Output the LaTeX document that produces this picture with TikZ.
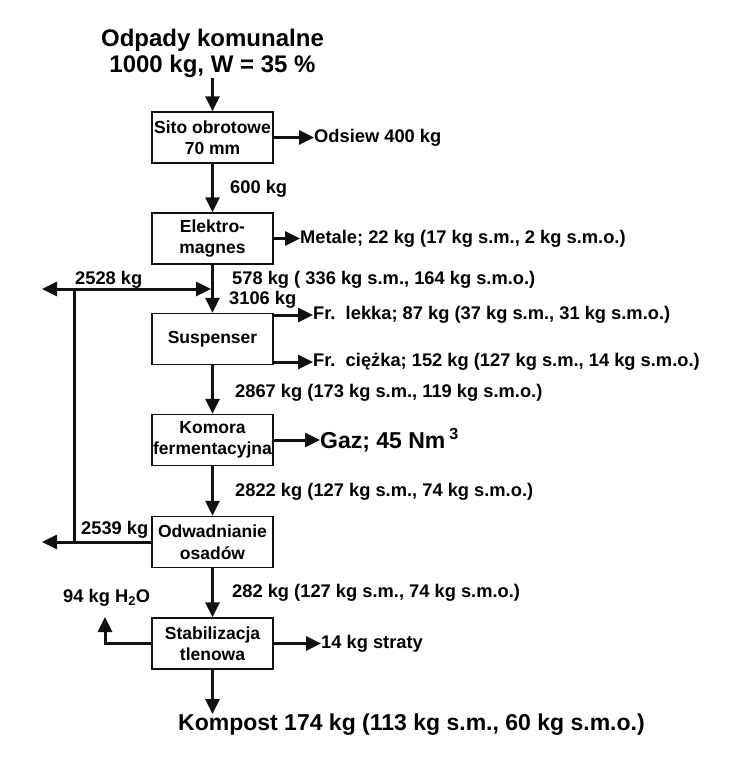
\documentclass[tikz,border=0pt]{standalone}
\usepackage{fontspec}
\setmainfont{Liberation Sans}
\usetikzlibrary{arrows.meta}

\begin{document}
\begin{tikzpicture}[x=1pt,y=-1pt,font=\fontsize{17.5}{21.5}\selectfont\bfseries]

\definecolor{flowink}{HTML}{111111}

\tikzset{
  unit/.style={
    draw=flowink, line width=1.3pt, minimum width=121pt,
    minimum height=51pt, inner sep=0pt, align=center
  },
  flow/.style={
    draw=flowink, line width=3pt, -{Triangle[length=15pt,width=14pt]}
  },
  plain/.style={draw=flowink, line width=3pt},
  stream/.style={anchor=west, inner sep=0pt, font=\fontsize{18.3}{22}\selectfont\bfseries},
  big/.style={font=\fontsize{23}{26}\selectfont\bfseries}
}

\useasboundingbox (0,0) rectangle (747,768);

% Feed.
\node[align=center, inner sep=1pt, font=\fontsize{24}{26}\selectfont\bfseries]
  (feed) at (212.5,53) {Odpady komunalne\\1000 kg, W = 35 \%};

% Process units on the main line.
\node[unit] (sito)    at (212.5,137.5) {Sito obrotowe\\70 mm};
\node[unit] (elektro) at (212.5,238.5) {Elektro-\\magnes};
\node[unit] (susp)    at (212.5,339)   {Suspenser};
\node[unit] (komora)  at (212.5,440)   {Komora\\fermentacyjna};
\node[unit] (odwad)   at (212.5,542)   {Odwadnianie\\osadów};
\node[unit] (stab)    at (212.5,643.5) {Stabilizacja\\tlenowa};

% Streams leaving to the right.
\node[stream] (odsiew) at (314,137.5) {Odsiew 400 kg};
\node[stream] (metale) at (300,238.5)
  {Metale; 22 kg (17 kg s.m., 2 kg s.m.o.)};
\node[stream] (lekka)  at (313,315)
  {Fr.\ \ lekka; 87 kg (37 kg s.m., 31 kg s.m.o.)};
\node[stream] (ciezka) at (313,362)
  {Fr.\ \ ciężka; 152 kg (127 kg s.m., 14 kg s.m.o.)};
\node[stream, big] (gaz) at (320,440) {Gaz; 45 Nm\,\textsuperscript{3}};
\node[stream] (straty) at (321,643.5) {14 kg straty};

% Main line labels.
\node[stream] (m600)  at (230,189) {600 kg};
\node[stream] (m578)  at (232,280) {578 kg ( 336 kg s.m., 164 kg s.m.o.)};
\node[stream] (m3106) at (229,300) {3106 kg};
\node[stream] (m2867) at (235,393) {2867 kg (173 kg s.m., 119 kg s.m.o.)};
\node[stream] (m2822) at (235,492) {2822 kg (127 kg s.m., 74 kg s.m.o.)};
\node[stream] (m282)  at (232,593) {282 kg (127 kg s.m., 74 kg s.m.o.)};

% Water loop.
\node[stream] (r2528) at (75,280) {2528 kg};
\node[stream] (r2539) at (81,530) {2539 kg};
\node[stream] (woda)  at (63,598) {94 kg H\textsubscript{2}O};

\coordinate (outtop) at (42,289);
\coordinate (outbot) at (42,542);
\coordinate (split)  at (74,542);
\coordinate (turn)   at (74,289);
\coordinate (merge)  at (211,289);
\coordinate (vent)   at (105,617);

% Product.
\node[stream, big] (kompost) at (178,725)
  {Kompost 174 kg (113 kg s.m., 60 kg s.m.o.)};

% Main line.
\draw[flow] (feed) -- (sito);
\foreach \from/\to in {sito/elektro,elektro/susp,susp/komora,komora/odwad,odwad/stab}
  \draw[flow] (\from) -- (\to);
\draw[flow] (stab.south) -- (stab.south |- kompost.north);

% Side outputs.
\foreach \from/\to in {sito/odsiew,elektro/metale,komora/gaz,stab/straty}
  \draw[flow] (\from.east) -- (\to.west);
\draw[flow] (lekka.west -| susp.east) -- (lekka.west);
\draw[flow] (ciezka.west -| susp.east) -- (ciezka.west);

% Recycle of water.
\draw[flow] (odwad.west) -- (outbot);
\draw[plain] (split) -- (turn);
\draw[flow] (turn) -- (merge);
\draw[flow] (turn) -- (outtop);
\draw[flow] (stab.west) -| (vent);

\end{tikzpicture}
\end{document}
